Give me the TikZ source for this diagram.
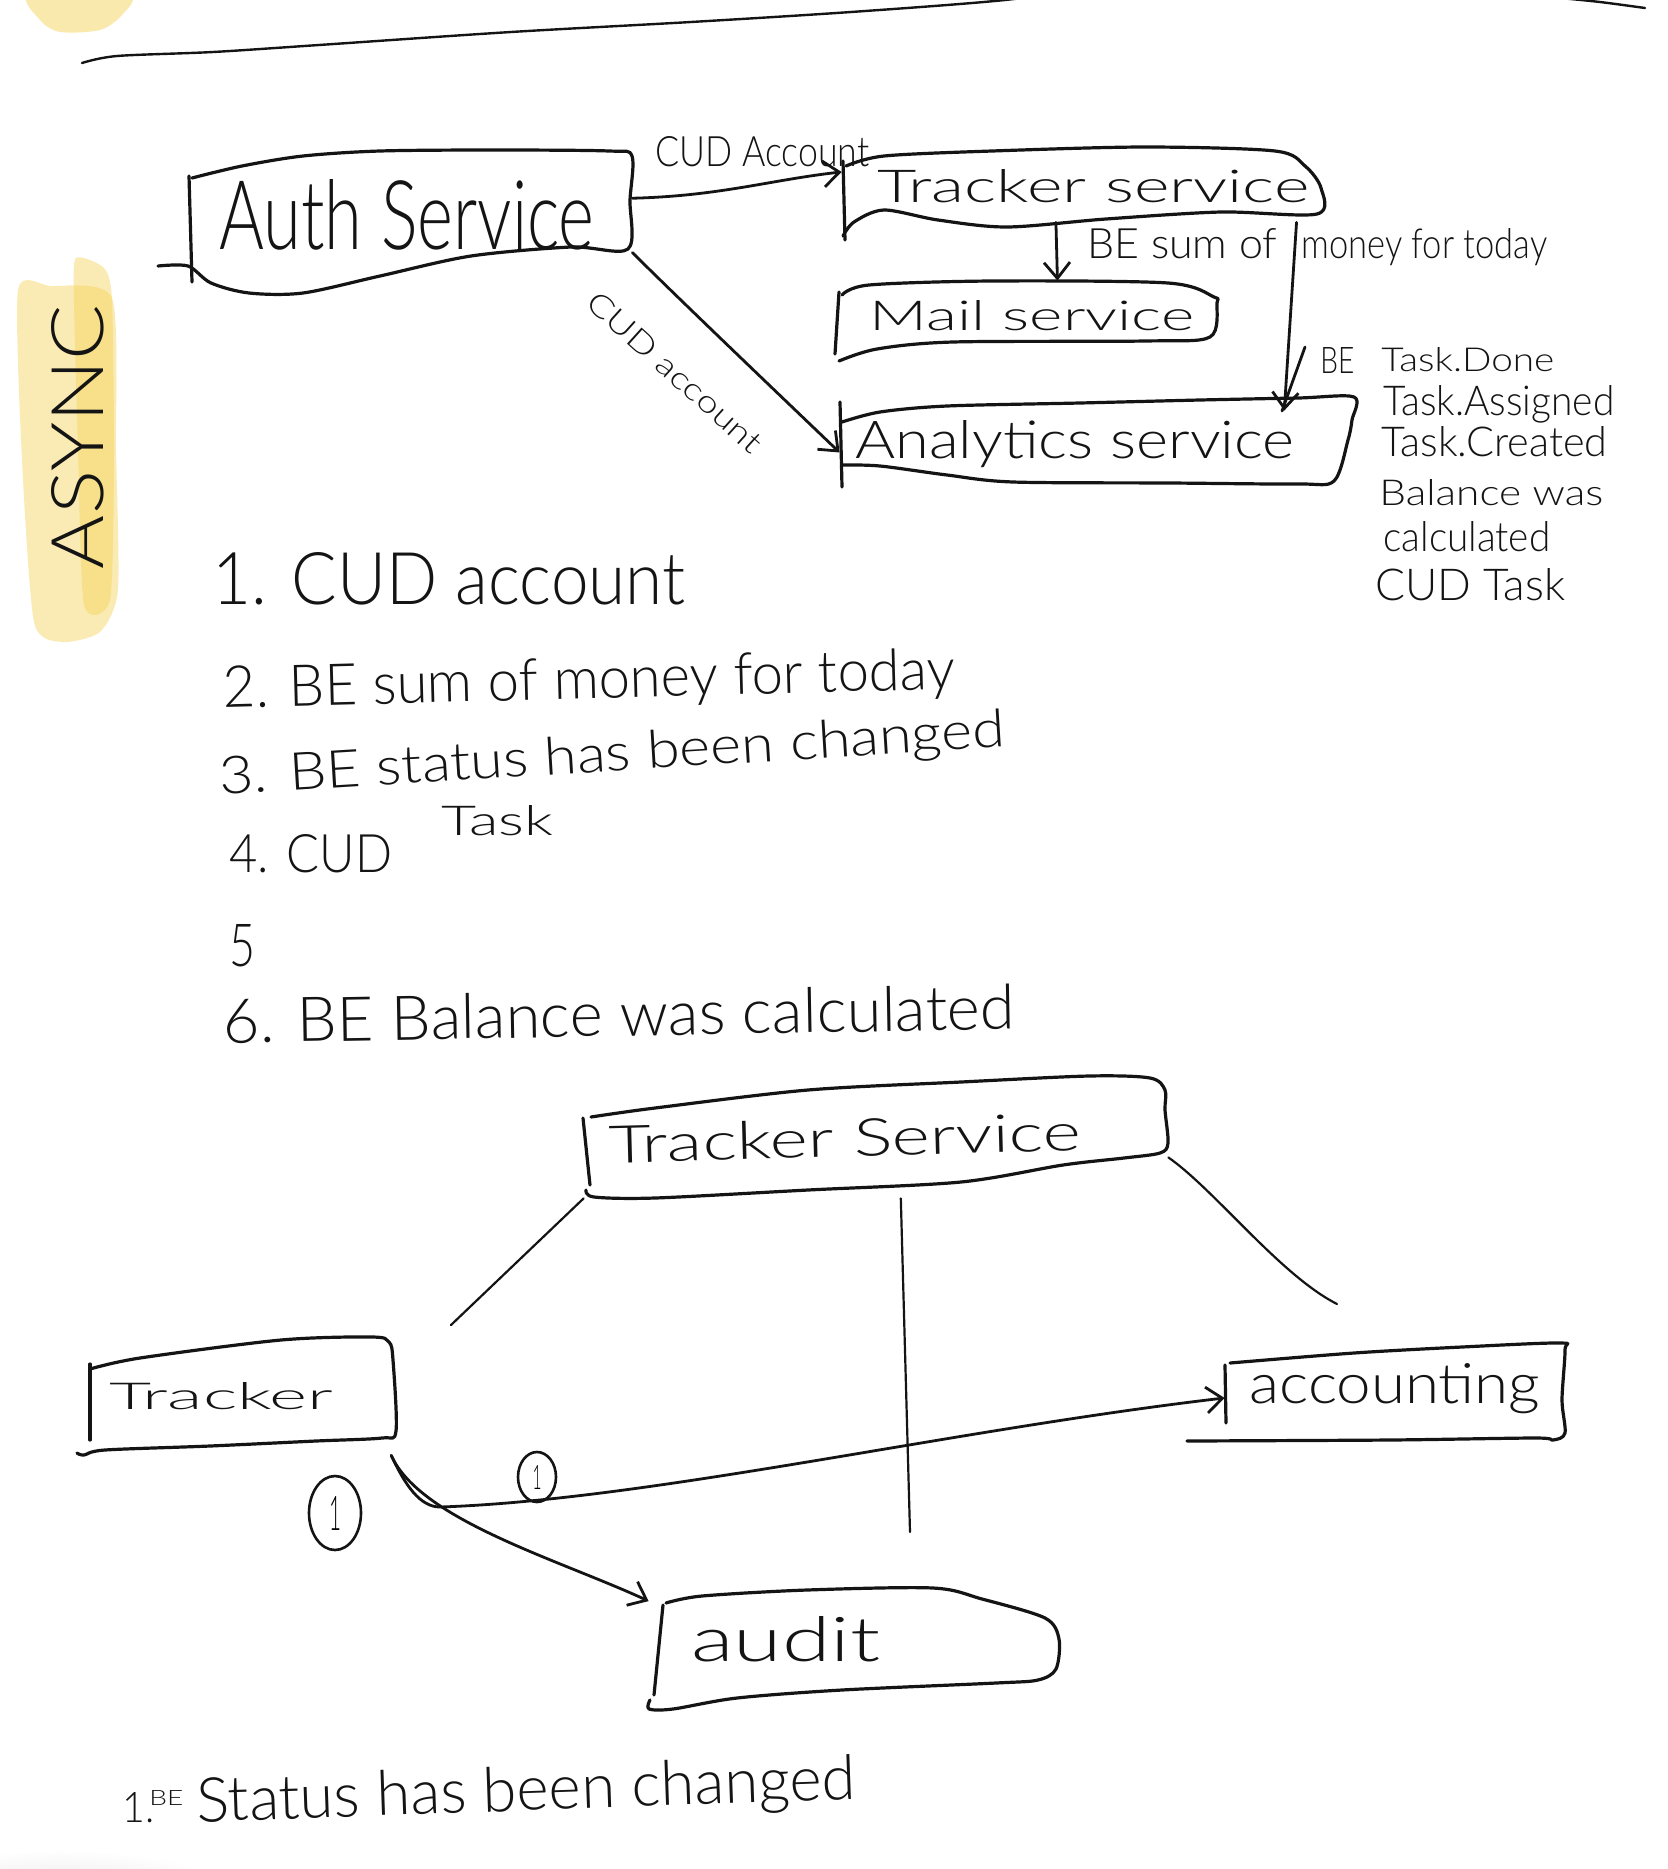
\documentclass[tikz,border=0pt]{standalone}
\usepackage{fontspec}
\setmainfont{Lato Light}
\usepackage{graphicx}
\usetikzlibrary{arrows.meta,shapes.geometric}
\newlength\pxu \setlength\pxu{0.5pt}
\newcommand\hw[3]{\resizebox{#1\pxu}{#2\pxu}{#3}}
\newcommand\boxarea[5]{\node[areabox, minimum width={#4*0.5pt}, minimum height={#5*0.5pt}] (#1) at (#2,#3) {};}
\definecolor{ink}{RGB}{20,20,20}
\definecolor{hl}{RGB}{246,212,90}
\begin{document}
\begin{tikzpicture}[x=0.5pt,y=-0.5pt,
  hand/.style={draw=ink, line width=1.6pt, line cap=round, line join=round},
  areabox/.style={draw=none, rectangle, inner sep=0pt},
  conn/.style={draw=ink, line width=1.4pt, line cap=round, -{Straight Barb[length=8pt,width=13pt]}},
  sepline/.style={draw=ink, line width=1.1pt, line cap=round},
  txt/.style={inner sep=0pt, anchor=base west, text=ink},
  ctxt/.style={inner sep=0pt, anchor=center, text=ink},
  badge/.style={ellipse, draw=ink, line width=1.3pt, inner sep=0pt}
]
\useasboundingbox (0,0) rectangle (1668,1869);
\fill[white] (0,0) rectangle (1668,1869);

% highlights
\fill[hl, opacity=.5] plot[smooth cycle, tension=.5] coordinates {(30,-5) (128,-5) (122,15) (100,30) (60,32) (40,20)};
\fill[hl, opacity=.45] plot[smooth cycle, tension=.4] coordinates {(18,290) (50,286) (112,298) (116,450) (118,590) (100,632) (62,642) (34,622) (22,460)};
\fill[hl, opacity=.45] plot[smooth cycle, tension=.4] coordinates {(76,258) (104,268) (112,300) (114,460) (110,600) (84,605) (78,450) (74,300)};
\shade[inner color=gray!22, outer color=white] (60,1905) ellipse (190 and 55);

% top rule
\draw[sepline, line width=1.2pt] plot[smooth] coordinates {(82,63) (117,56) (213,52) (319,45) (511,32) (691,22) (851,12) (1005,0) (1100,-14)};
\draw[sepline, line width=1.2pt] plot[smooth] coordinates {(1560,-2) (1600,2) (1645,8)};

\node[ctxt, rotate=90] (async) at (78,437) {\hw{264}{52}{ASYNC}};

% ---------- top diagram boxes ----------
\boxarea{auth}{411}{221.5}{442}{141}
\boxarea{trk1}{1081.5}{184.5}{479}{75}
\boxarea{mail}{1027}{321}{380}{80}
\boxarea{ana}{1097}{443.5}{514}{93}

\draw[hand] plot[smooth, tension=.5] coordinates {(192,178) (242,166) (303,156) (380,151) (494,150) (609,151) (632,156) (630,200) (628,249) (571,247) (471,256) (380,276) (303,293) (249,293) (211,283) (188,266) (158,266)};
\draw[hand] (189,176) -- (192,282);

\draw[hand] plot[smooth, tension=.5] coordinates {(846,166) (884,156) (992,151) (1145,147) (1275,151) (1305,166) (1321,188) (1317,214) (1221,212) (1106,219) (1007,227) (938,220) (884,210) (854,222) (843,236)};
\draw[hand] (843,161) -- (845,240);

\draw[hand] plot[smooth, tension=.5] coordinates {(842,295) (869,285) (992,281) (1168,283) (1214,297) (1217,303) (1210,337) (1145,341) (953,342) (877,349) (839,361)};
\draw[hand] (839,292) -- (835,354);

\draw[hand] plot[smooth, tension=.5] coordinates {(842,422) (880,412) (947,406) (1080,403) (1200,400) (1298,398) (1354,397) (1352,420) (1348,440) (1334,481) (1298,484) (1170,483) (1013,482) (947,475) (880,466) (842,465)};
\draw[hand] (840,402) -- (842,487);

\node[txt] (tauth) at (219,249) {\hw{375}{70}{Auth Service}};
\node[txt] (ttrk1) at (877,202) {\hw{432}{33}{Tracker service}};
\node[txt] (tmail) at (869,330) {\hw{325}{30}{Mail service}};
\node[txt] (tana) at (855,458) {\hw{439}{38}{Analytics service}};

% connectors top
\draw[conn] (auth.6) .. controls (720,196) and (770,180) .. (trk1.177);
\draw[conn] (auth.-8) .. controls (680,300) and (790,405) .. (ana.182.7);
\draw[conn] (trk1.236.8) -- (mail.53.1);
\draw[conn, shorten >=-7pt] (trk1.-10.34) -- (ana.14.11);
\draw[hand, line width=1.4pt] (1282,411) -- (1305,347);

\node[txt] (lab1) at (655,166) {\hw{214}{30}{CUD Account}};
\node[ctxt, rotate=-42] (lab2) at (675,372) {\hw{224}{22}{CUD account}};
\node[txt] (lab3) at (1087,258) {\hw{190}{30}{BE sum of}};
\node[txt] (lab3b) at (1301,258) {\hw{246}{30}{money for today}};
\node[txt] (lab4) at (1320,373) {\hw{34}{26}{BE}};

\node[txt] (ev1) at (1381,371) {\hw{173}{24}{Task.Done}};
\node[txt] (ev2) at (1383,415) {\hw{231}{30}{Task.Assigned}};
\node[txt] (ev3) at (1381,456) {\hw{226}{30}{Task.Created}};
\node[txt] (ev4) at (1379,505) {\hw{224}{26}{Balance was}};
\node[txt] (ev5) at (1383,551) {\hw{167}{30}{calculated}};
\node[txt] (ev6) at (1375,600) {\hw{190}{32}{CUD Task}};

% ---------- list ----------
\node[txt] (l1) at (212,604) {\hw{473}{52}{1. CUD account}};
\node[txt, rotate=1.5] (l2) at (223,708) {\hw{732}{42}{2. BE sum of money for today}};
\node[txt, rotate=3.5] (l3) at (220,795) {\hw{787}{38}{3. BE status has been changed}};
\node[txt] (l4) at (229,872) {\hw{163}{38}{4. CUD}};
\node[txt] (l4b) at (441,835) {\hw{112}{30}{Task}};
\node[txt] (l5) at (229,966) {\hw{26}{42}{5}};
\node[txt, rotate=1] (l6) at (223,1043) {\hw{792}{45}{6. BE Balance was calculated}};

% ---------- bottom diagram ----------
\boxarea{trk2}{876}{1137}{584}{122}
\boxarea{trkr}{236.5}{1396}{319}{118}
\boxarea{acct}{1395}{1392}{340}{98}
\boxarea{audit}{854}{1648.5}{410}{121}

\draw[hand] plot[smooth, tension=.5] coordinates {(591,1117) (655,1108) (808,1090) (961,1082) (1089,1076) (1150,1078) (1165,1090) (1165,1110) (1168,1143) (1160,1153) (1124,1158) (1063,1165) (961,1182) (808,1190) (655,1198) (594,1197) (586,1190)};
\draw[hand] (583,1118) -- (590,1185);

\draw[hand] plot[smooth, tension=.5] coordinates {(90,1369) (140,1358) (281,1340) (372,1337) (389,1342) (393,1360) (396,1431) (382,1438) (316,1441) (210,1446) (105,1450) (84,1455) (77,1453)};
\draw[hand] (90,1364) -- (90,1440);

\draw[hand] plot[smooth, tension=.5] coordinates {(1230,1363) (1354,1353) (1462,1347) (1560,1343) (1565,1350) (1562,1400) (1565,1433) (1553,1440) (1535,1438) (1390,1440) (1187,1441)};
\draw[hand] (1225,1365) -- (1226,1423);

\draw[hand] plot[smooth, tension=.5] coordinates {(666,1603) (702,1596) (807,1590) (933,1588) (982,1599) (1045,1618) (1059,1639) (1056,1669) (1038,1680) (996,1683) (842,1690) (737,1698) (673,1709) (649,1709) (650,1700)};
\draw[hand] (663,1605) -- (654,1695);

\node[txt, rotate=1.5] (ttrk2) at (609,1163) {\hw{472}{38}{Tracker Service}};
\node[txt] (ttrkr) at (109,1409) {\hw{224}{27}{Tracker}};
\node[txt] (tacct) at (1249,1403) {\hw{291}{40}{accounting}};
\node[txt] (taudit) at (691,1661) {\hw{189}{45}{audit}};

\coordinate (endL) at (451,1325);
\coordinate (endM) at (910,1532);
\coordinate (endR) at (1337,1304);
\draw[sepline] (trk2.south west) -- (endL);
\draw[sepline] (trk2.-68.5) -- (endM);
\draw[sepline] (trk2.-4.5) .. controls (1215,1190) and (1280,1275) .. (endR);

\coordinate (br) at (440,1507);
\draw[conn] (trkr.-21.7) .. controls (405,1485) and (420,1507) .. (br) .. controls (650,1500) and (950,1430) .. (acct.182);
\draw[conn] (trkr.-21.7) .. controls (420,1520) and (560,1560) .. (audit.167.2);

\node[badge, minimum width={52*0.5pt}, minimum height={74*0.5pt}] (c1) at (335,1513) {\hw{12}{34}{1}};
\node[badge, minimum width={38*0.5pt}, minimum height={50*0.5pt}] (c2) at (537,1477) {\hw{9}{24}{1}};

\node[txt] (n1) at (122,1822) {\hw{32}{30}{1.}};
\node[txt] (nbe) at (149,1805) {\hw{34}{15}{BE}};
\node[txt, rotate=2] (nstat) at (197,1822) {\hw{659}{45}{Status has been changed}};
\end{tikzpicture}
\end{document}
